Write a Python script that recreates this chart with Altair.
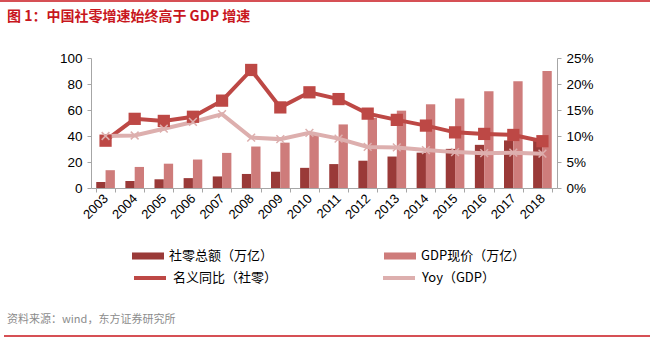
import altair as alt
import pandas as pd

years = [str(y) for y in range(2003, 2019)]
retail_total = [4.6, 5.4, 6.7, 7.6, 8.9, 10.8, 12.5, 15.5, 18.4, 21.0, 24.2, 27.2, 30.1, 33.2, 36.6, 38.1]
gdp_nominal = [13.7, 16.2, 18.7, 21.9, 27.0, 31.9, 34.9, 41.2, 48.9, 54.0, 59.5, 64.4, 68.9, 74.4, 82.1, 90.0]
retail_yoy = [9.1, 13.3, 12.9, 13.7, 16.8, 22.7, 15.5, 18.4, 17.1, 14.3, 13.1, 12.0, 10.7, 10.4, 10.2, 9.0]
gdp_yoy = [10.0, 10.1, 11.4, 12.7, 14.2, 9.7, 9.4, 10.6, 9.5, 7.9, 7.8, 7.3, 6.9, 6.7, 6.8, 6.6]

bar_names = ["社零总额（万亿）", "GDP现价（万亿）"]
line_names = ["名义同比（社零）", "Yoy（GDP）"]

DARK_BAR = "#9A3A38"
LIGHT_BAR = "#CE7C7B"
DARK_LINE = "#BD4845"
LIGHT_LINE = "#DDAFAE"
RED = "#C8161D"
FONT = "Liberation Sans"
CJK = "Noto Sans CJK SC"

bars = pd.DataFrame({
    "year": years * 2,
    "series": [bar_names[0]] * 16 + [bar_names[1]] * 16,
    "value": retail_total + gdp_nominal,
})
lines = pd.DataFrame({
    "year": years * 2,
    "series2": [line_names[0]] * 16 + [line_names[1]] * 16,
    "pct": [v / 100 for v in retail_yoy] + [v / 100 for v in gdp_yoy],
})

xenc = alt.X("year:N", title=None, sort=years,
             scale=alt.Scale(paddingInner=0.36, paddingOuter=0.18),
             axis=alt.Axis(labelAngle=-45, labelAlign="right", labelBaseline="middle",
                           labelFont=FONT, labelFontSize=13, labelColor="#000000",
                           labelPadding=4,
                           domainColor="#A6A6A6", tickColor="#A6A6A6", tickSize=4,
                           tickBand="extent", grid=False))

bar_layer = alt.Chart(bars).mark_bar().encode(
    x=xenc,
    xOffset=alt.XOffset("series:N", sort=bar_names),
    y=alt.Y("value:Q", title=None,
            scale=alt.Scale(domain=[0, 100]),
            axis=alt.Axis(values=[0, 20, 40, 60, 80, 100], grid=False,
                          labelFont=FONT, labelFontSize=13.5, labelColor="#000000",
                          domainColor="#A6A6A6", tickColor="#A6A6A6", tickSize=4,
                          labelPadding=5)),
    color=alt.Color("series:N", sort=bar_names,
                    scale=alt.Scale(domain=bar_names, range=[DARK_BAR, LIGHT_BAR]),
                    legend=alt.Legend(title=None, orient="none", legendX=41, legendY=182,
                                      direction="horizontal", columns=2,
                                      symbolType="M-1,-0.22L1,-0.22L1,0.22L-1,0.22Z",
                                      symbolSize=1024, symbolStrokeWidth=0,
                                      labelFont=CJK, labelFontSize=13, labelColor="#000000",
                                      columnPadding=110, labelOffset=5)),
)

yright = alt.Y("pct:Q", title=None,
               scale=alt.Scale(domain=[0, 0.25]),
               axis=alt.Axis(orient="right", values=[0, 0.05, 0.10, 0.15, 0.20, 0.25],
                             format=".0%", grid=False,
                             labelFont=FONT, labelFontSize=13.5, labelColor="#000000",
                             domainColor="#A6A6A6", tickColor="#A6A6A6", tickSize=4,
                             labelPadding=5))

line_layer = alt.Chart(lines).mark_line(strokeWidth=4).encode(
    x=alt.X("year:N", sort=years),
    y=yright,
    stroke=alt.Stroke("series2:N", sort=line_names,
                      scale=alt.Scale(domain=line_names, range=[DARK_LINE, LIGHT_LINE]),
                      legend=alt.Legend(title=None, orient="none", legendX=41, legendY=202,
                                        direction="horizontal", columns=2,
                                        symbolType="stroke", symbolSize=1024,
                                        symbolStrokeWidth=4,
                                        labelFont=CJK, labelFontSize=13, labelColor="#000000",
                                        columnPadding=97, labelOffset=5)),
)

sq_layer = alt.Chart(lines).transform_filter(
    alt.datum.series2 == line_names[0]
).mark_point(shape="square", filled=True, size=150, color=DARK_LINE, opacity=1).encode(
    x=alt.X("year:N", sort=years),
    y=alt.Y("pct:Q", scale=alt.Scale(domain=[0, 0.25]), axis=None),
)

x_layer = alt.Chart(lines).transform_filter(
    alt.datum.series2 == line_names[1]
).mark_point(shape="M-1,-1L1,1M-1,1L1,-1", filled=False, size=60, strokeWidth=1.5,
             color=LIGHT_LINE, opacity=1).encode(
    x=alt.X("year:N", sort=years),
    y=alt.Y("pct:Q", scale=alt.Scale(domain=[0, 0.25]), axis=None),
)

rules_data = pd.DataFrame({"k": [0]})
top_rule = alt.Chart(rules_data).mark_rule(color=RED, strokeWidth=1.5).encode(
    x=alt.value(-91), x2=alt.value(559), y=alt.value(-57))
bot_rule = alt.Chart(rules_data).mark_rule(color=RED, strokeWidth=1.5).encode(
    x=alt.value(-87), x2=alt.value(559), y=alt.value(278))
source = alt.Chart(rules_data).mark_text(
    text="资料来源：wind，东方证券研究所", font=CJK, fontSize=11, color="#8C8C8C",
    align="left", baseline="middle").encode(x=alt.value(-84), y=alt.value(262))
title = alt.Chart(rules_data).mark_text(
    text="图 1：中国社零增速始终高于 GDP 增速", font=CJK, fontSize=14, fontWeight="bold",
    color=RED, align="left", baseline="middle").encode(x=alt.value(-84), y=alt.value(-41))

chart = alt.layer(bar_layer, line_layer, sq_layer, x_layer,
                  top_rule, bot_rule, source, title).resolve_scale(
    y="independent"
).properties(
    width=466, height=130,
    padding={"left": 91, "top": 58, "right": 100, "bottom": 152},
    autosize=alt.AutoSizeParams(type="none"),
    background="white",
).configure_view(stroke=None)

chart.save("out.html", embed_options={"renderer": "svg", "actions": False})
